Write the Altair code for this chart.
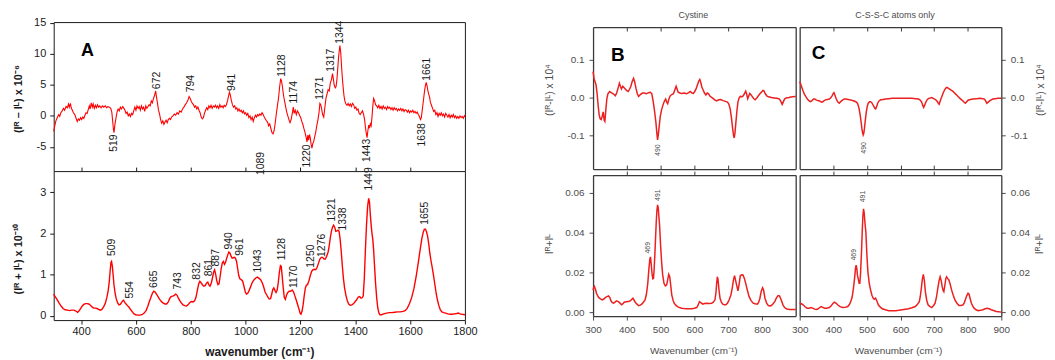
import altair as alt
import pandas as pd

# ---------------- data ----------------
A_TOP = [(300,-2.5),(304,-1.6),(308,-0.8),(313,-0.3),(318,0.2),(322,-0.1),(326,0.5),(331,0.8),(336,1.2),(340,0.9),(345,1.5),(350,1.3),(354,1.9),(357,1.4),(361,2.0),(364,1.3),(368,0.9),(372,0.5),(377,0.2),(381,-0.3),(386,-0.9),(390,-0.5),(394,-0.7),(398,-0.3),(402,-0.6),(406,-0.2),(410,-0.4),(414,0.1),(418,0.5),(422,0.4),(426,1.0),(430,1.6),(433,1.1),(437,2.1),(441,1.4),(444,1.9),(448,1.2),(452,1.7),(456,1.3),(460,1.8),(464,1.4),(468,1.6),(473,1.3),(478,1.6),(483,1.4),(488,1.6),(493,1.3),(498,1.5),(503,1.4),(508,1.2),(512,0.6),(515,-0.8),(518,-2.2),(520,-2.7),(523,-1.5),(527,-0.4),(531,0.6),(535,1.1),(539,0.8),(543,1.4),(547,1.1),(552,1.5),(556,1.2),(560,0.9),(564,0.4),(568,0.6),(572,0.0),(576,0.3),(580,-0.1),(584,0.4),(588,0.2),(592,0.8),(596,1.4),(600,0.9),(604,1.6),(608,1.2),(612,1.5),(616,0.9),(620,1.6),(624,1.1),(628,1.4),(632,0.7),(636,1.6),(640,1.2),(644,1.5),(648,1.8),(652,1.6),(656,2.4),(660,2.1),(664,2.8),(668,3.3),(672,4.0),(675,3.0),(678,2.2),(682,1.0),(686,0.3),(690,-0.6),(694,-1.2),(698,-0.8),(702,-1.4),(706,-1.0),(710,-0.7),(714,-1.1),(718,-0.6),(722,-0.4),(726,-0.6),(730,-0.2),(735,0.0),(740,0.3),(745,0.1),(750,0.5),(755,0.3),(760,0.8),(765,0.6),(770,1.1),(775,1.4),(780,1.8),(785,2.1),(790,2.6),(794,3.1),(798,2.8),(802,2.3),(806,2.0),(810,1.8),(814,1.4),(818,1.6),(822,1.1),(826,1.4),(830,0.9),(834,0.5),(838,-0.2),(842,-0.5),(846,-0.3),(850,0.4),(854,0.9),(858,1.3),(862,1.0),(866,1.6),(870,1.3),(874,1.7),(878,1.2),(882,1.6),(886,1.4),(890,1.7),(894,1.3),(898,1.6),(902,1.2),(906,1.8),(910,1.4),(914,1.6),(918,1.3),(922,1.7),(926,1.5),(930,1.8),(934,2.4),(938,3.2),(941,3.8),(944,3.4),(948,2.5),(952,1.8),(956,1.4),(960,1.6),(964,1.1),(968,1.3),(972,0.8),(976,1.1),(980,0.7),(984,0.9),(988,0.5),(992,0.8),(996,0.3),(1000,0.5),(1004,0.1),(1008,0.4),(1012,-0.3),(1016,0.0),(1020,-0.6),(1024,-0.2),(1028,-0.9),(1032,-0.3),(1036,0.1),(1040,-0.2),(1044,0.2),(1048,0.0),(1052,0.3),(1056,0.1),(1060,0.5),(1064,0.2),(1068,-0.2),(1072,-0.5),(1076,-0.8),(1080,-1.0),(1084,-1.6),(1088,-1.3),(1092,-2.0),(1096,-2.7),(1100,-2.9),(1104,-2.4),(1108,-1.2),(1112,0.3),(1116,1.6),(1120,2.8),(1124,4.6),(1128,6.0),(1131,5.6),(1134,4.8),(1138,3.4),(1142,2.4),(1146,1.5),(1150,0.6),(1154,0.0),(1158,-0.6),(1162,-1.1),(1166,-0.6),(1170,0.3),(1174,1.4),(1177,0.4),(1181,0.9),(1185,0.2),(1189,0.8),(1193,0.5),(1197,0.1),(1201,-0.3),(1205,-0.9),(1209,-1.4),(1213,-2.1),(1217,-2.7),(1221,-3.5),(1224,-4.2),(1227,-3.1),(1230,-3.9),(1233,-3.0),(1236,-3.6),(1239,-4.6),(1242,-5.2),(1245,-4.5),(1248,-4.2),(1252,-3.4),(1256,-2.6),(1260,-1.5),(1264,-0.6),(1268,0.6),(1271,2.0),(1274,1.8),(1277,1.2),(1281,0.2),(1285,-0.2),(1289,1.3),(1293,2.8),(1297,3.5),(1301,4.2),(1305,4.0),(1309,5.3),(1313,5.8),(1317,6.8),(1320,6.0),(1323,5.0),(1327,4.5),(1330,4.7),(1333,5.8),(1336,7.5),(1339,9.4),(1342,10.6),(1344,11.3),(1347,10.2),(1350,8.0),(1353,6.0),(1356,4.5),(1359,3.2),(1362,2.4),(1366,1.9),(1370,1.7),(1374,2.0),(1378,1.6),(1382,1.9),(1386,1.5),(1390,2.0),(1394,1.8),(1398,1.2),(1402,1.4),(1406,0.9),(1410,1.1),(1414,0.4),(1418,0.2),(1422,0.5),(1426,0.8),(1430,0.3),(1434,-0.6),(1437,-1.8),(1440,-2.8),(1443,-3.5),(1446,-2.4),(1449,-1.5),(1452,-2.0),(1455,-1.3),(1458,-1.6),(1461,-0.2),(1464,1.6),(1467,2.8),(1470,2.5),(1474,1.8),(1478,1.6),(1482,1.3),(1486,1.7),(1490,1.2),(1494,1.5),(1498,1.1),(1502,1.6),(1506,1.2),(1510,1.4),(1514,1.0),(1518,1.5),(1522,1.2),(1526,1.4),(1530,1.0),(1534,1.3),(1538,0.9),(1542,1.3),(1546,1.0),(1550,1.2),(1554,0.8),(1558,1.1),(1562,0.9),(1566,1.2),(1570,0.8),(1574,1.1),(1578,0.7),(1582,1.0),(1586,0.9),(1590,0.6),(1594,0.9),(1598,0.5),(1602,0.8),(1606,0.6),(1610,0.9),(1614,0.5),(1618,0.7),(1622,0.4),(1626,0.6),(1630,0.2),(1634,-0.1),(1638,-0.6),(1641,-0.3),(1644,0.8),(1647,1.9),(1650,3.0),(1653,4.1),(1656,4.9),(1659,5.4),(1662,4.8),(1665,4.0),(1668,3.5),(1671,3.0),(1674,2.2),(1678,1.7),(1682,1.2),(1686,0.7),(1690,0.9),(1694,0.2),(1698,0.5),(1702,-0.1),(1706,0.4),(1710,0.1),(1714,0.5),(1718,0.0),(1722,0.3),(1726,-0.2),(1730,0.4),(1734,0.1),(1738,-0.2),(1742,0.2),(1746,-0.3),(1750,0.1),(1754,-0.2),(1758,0.2),(1762,-0.3),(1766,0.0),(1770,-0.4),(1774,-0.1),(1778,-0.4),(1782,0.0),(1786,-0.3),(1790,-0.1),(1794,-0.4),(1798,0.0),(1800,-0.2)]

A_BOT = [(300,0.53),(306,0.46),(313,0.39),(320,0.31),(327,0.24),(334,0.18),(342,0.15),(350,0.14),(358,0.13),(366,0.14),(374,0.14),(381,0.12),(387,0.09),(392,0.12),(398,0.18),(404,0.24),(410,0.28),(416,0.3),(422,0.3),(428,0.29),(434,0.26),(440,0.22),(446,0.19),(452,0.19),(458,0.18),(464,0.16),(470,0.14),(476,0.16),(482,0.22),(488,0.3),(494,0.45),(499,0.62),(503,0.85),(506,1.1),(509,1.3),(511,1.32),(514,1.2),(517,0.98),(520,0.75),(524,0.55),(528,0.42),(533,0.32),(538,0.27),(543,0.28),(548,0.33),(552,0.37),(555,0.38),(559,0.33),(564,0.29),(569,0.25),(575,0.21),(581,0.15),(587,0.1),(593,0.05),(599,0.03),(606,0.02),(614,0.02),(622,0.03),(630,0.07),(637,0.13),(643,0.23),(649,0.35),(655,0.46),(660,0.55),(665,0.6),(670,0.58),(676,0.52),(682,0.45),(688,0.39),(694,0.34),(700,0.31),(706,0.29),(712,0.29),(718,0.34),(723,0.42),(728,0.47),(734,0.48),(740,0.5),(745,0.53),(750,0.5),(755,0.43),(760,0.37),(766,0.31),(772,0.27),(778,0.25),(784,0.24),(790,0.27),(796,0.32),(802,0.35),(808,0.34),(814,0.37),(819,0.45),(824,0.62),(829,0.78),(833,0.84),(838,0.8),(843,0.75),(848,0.72),(853,0.74),(858,0.8),(862,0.82),(866,0.75),(870,0.72),(875,0.8),(880,0.95),(884,1.08),(887,1.12),(891,1.0),(895,0.85),(899,0.76),(903,0.78),(907,0.95),(911,1.15),(915,1.28),(919,1.32),(923,1.25),(927,1.3),(931,1.4),(935,1.48),(939,1.55),(943,1.52),(947,1.45),(951,1.4),(955,1.41),(959,1.42),(963,1.4),(967,1.32),(971,1.15),(975,0.98),(979,0.9),(984,0.88),(989,0.85),(994,0.72),(999,0.58),(1003,0.53),(1008,0.55),(1013,0.62),(1019,0.72),(1025,0.82),(1031,0.88),(1037,0.92),(1043,0.94),(1049,0.91),(1055,0.88),(1061,0.8),(1066,0.7),(1071,0.58),(1076,0.52),(1081,0.46),(1086,0.41),(1091,0.42),(1095,0.52),(1099,0.64),(1103,0.68),(1107,0.62),(1111,0.57),(1115,0.62),(1119,0.8),(1123,1.05),(1127,1.22),(1130,1.2),(1133,1.0),(1137,0.7),(1141,0.45),(1145,0.4),(1149,0.5),(1154,0.57),(1159,0.6),(1164,0.6),(1170,0.63),(1175,0.58),(1180,0.48),(1185,0.38),(1190,0.27),(1195,0.16),(1199,0.06),(1202,0.04),(1206,0.12),(1210,0.28),(1214,0.5),(1218,0.68),(1222,0.75),(1226,0.76),(1231,0.85),(1236,0.98),(1241,1.08),(1246,1.12),(1251,1.13),(1256,1.12),(1261,1.18),(1266,1.28),(1271,1.38),(1276,1.42),(1281,1.42),(1286,1.38),(1291,1.38),(1296,1.45),(1301,1.55),(1305,1.7),(1309,1.9),(1313,2.05),(1317,2.15),(1321,2.2),(1325,2.15),(1329,2.05),(1333,2.06),(1337,2.08),(1341,2.05),(1345,1.85),(1349,1.55),(1353,1.2),(1357,0.9),(1361,0.68),(1366,0.5),(1371,0.37),(1376,0.29),(1382,0.26),(1388,0.27),(1394,0.3),(1400,0.35),(1406,0.4),(1411,0.46),(1416,0.47),(1421,0.43),(1425,0.44),(1429,0.48),(1433,0.9),(1437,1.6),(1441,2.2),(1445,2.65),(1449,2.85),(1452,2.75),(1455,2.45),(1458,2.2),(1461,2.0),(1464,1.85),(1467,1.6),(1470,1.25),(1474,0.8),(1478,0.45),(1482,0.2),(1486,0.08),(1490,0.03),(1496,0.03),(1504,0.05),(1514,0.07),(1524,0.08),(1534,0.08),(1544,0.09),(1554,0.1),(1564,0.1),(1574,0.11),(1582,0.13),(1590,0.19),(1598,0.3),(1606,0.45),(1614,0.66),(1622,0.95),(1630,1.3),(1637,1.62),(1643,1.88),(1648,2.03),(1652,2.1),(1656,2.1),(1660,2.04),(1664,1.93),(1668,1.75),(1672,1.52),(1676,1.35),(1680,1.2),(1685,1.0),(1690,0.78),(1695,0.55),(1700,0.38),(1705,0.25),(1710,0.15),(1716,0.1),(1722,0.08),(1730,0.07),(1738,0.05),(1746,0.04),(1754,0.04),(1762,0.05),(1770,0.06),(1776,0.07),(1782,0.05),(1790,0.04),(1800,0.03)]

B_TOP = [(300,0.069),(303,0.05),(306,0.042),(309,0.033),(312,0.01),(315,-0.02),(318,-0.045),(321,-0.056),(324,-0.058),(327,-0.05),(330,-0.038),(333,-0.06),(335,-0.063),(338,-0.03),(341,-0.002),(344,0.01),(349,0.016),(354,0.013),(360,0.01),(366,0.005),(370,0.012),(374,0.025),(378,0.038),(381,0.03),(384,0.023),(388,0.03),(392,0.026),(396,0.022),(400,0.018),(404,0.016),(408,0.022),(412,0.03),(416,0.043),(420,0.051),(423,0.042),(427,0.025),(431,0.01),(435,0.003),(440,0.008),(446,0.012),(452,0.012),(458,0.01),(464,0.013),(470,0.014),(474,0.01),(478,-0.01),(482,-0.035),(486,-0.065),(489,-0.095),(491,-0.112),(493,-0.1),(496,-0.075),(499,-0.05),(503,-0.032),(507,-0.02),(511,-0.01),(515,-0.004),(518,-0.012),(521,-0.016),(524,-0.006),(528,0.004),(533,0.008),(538,0.01),(542,0.02),(546,0.03),(549,0.022),(552,0.014),(557,0.012),(562,0.011),(570,0.012),(577,0.01),(583,0.013),(588,0.016),(593,0.012),(597,0.011),(601,0.016),(605,0.023),(609,0.033),(613,0.044),(616,0.048),(619,0.04),(622,0.028),(626,0.02),(630,0.012),(634,0.007),(638,0.012),(642,0.01),(646,0.004),(650,0.001),(655,-0.002),(660,-0.006),(666,-0.009),(672,-0.006),(678,-0.005),(685,-0.008),(692,-0.01),(698,-0.012),(702,-0.017),(706,-0.03),(710,-0.055),(713,-0.08),(716,-0.1),(718,-0.107),(720,-0.095),(723,-0.065),(726,-0.035),(729,-0.012),(732,-0.002),(736,0.003),(741,0.002),(745,0.005),(749,0.012),(752,0.017),(755,0.008),(758,-0.003),(761,0.004),(764,0.011),(768,0.007),(772,0.002),(776,-0.003),(780,-0.006),(784,-0.002),(789,0.004),(794,0.01),(799,0.015),(803,0.019),(806,0.018),(810,0.01),(815,0.004),(820,0.002),(828,0.0),(836,-0.001),(845,-0.002),(852,-0.004),(856,-0.01),(860,-0.018),(863,-0.012),(867,-0.004),(872,-0.001),(880,0.0),(890,0.002),(900,0.003)]

C_TOP = [(300,0.042),(303,0.036),(306,0.028),(310,0.018),(314,0.009),(318,0.003),(323,-0.004),(328,-0.009),(332,-0.011),(336,-0.009),(341,-0.004),(345,-0.004),(349,-0.006),(354,-0.008),(359,-0.009),(363,-0.011),(367,-0.012),(372,-0.009),(377,-0.006),(382,-0.005),(388,-0.004),(392,-0.001),(396,0.004),(400,0.011),(402,0.013),(405,0.006),(409,-0.004),(413,-0.011),(418,-0.015),(423,-0.01),(428,-0.006),(433,-0.004),(438,-0.004),(444,-0.005),(449,-0.006),(455,-0.007),(462,-0.009),(467,-0.011),(472,-0.015),(476,-0.026),(480,-0.046),(483,-0.066),(485,-0.081),(487,-0.092),(489,-0.099),(491,-0.094),(493,-0.08),(495,-0.063),(498,-0.04),(501,-0.024),(504,-0.015),(508,-0.011),(511,-0.011),(514,-0.013),(518,-0.019),(521,-0.024),(524,-0.029),(526,-0.03),(529,-0.024),(532,-0.015),(536,-0.009),(541,-0.006),(548,-0.005),(556,-0.004),(565,-0.003),(575,-0.002),(590,-0.002),(605,-0.002),(620,-0.002),(634,-0.002),(645,-0.003),(654,-0.004),(659,-0.007),(663,-0.012),(666,-0.02),(669,-0.026),(672,-0.02),(676,-0.011),(680,-0.005),(684,-0.002),(689,-0.001),(693,0.0),(699,-0.003),(705,-0.006),(710,-0.011),(713,-0.016),(715,-0.018),(718,-0.01),(721,-0.002),(724,0.005),(727,0.012),(731,0.02),(735,0.025),(738,0.027),(742,0.025),(747,0.022),(752,0.019),(757,0.016),(762,0.011),(767,0.007),(772,0.002),(777,-0.002),(782,-0.006),(786,-0.009),(790,-0.013),(793,-0.015),(797,-0.011),(801,-0.007),(808,-0.005),(816,-0.004),(826,-0.003),(836,-0.002),(845,-0.003),(850,-0.004),(854,-0.01),(857,-0.015),(861,-0.012),(865,-0.009),(870,-0.006),(875,-0.004),(882,-0.003),(890,-0.002),(900,-0.002)]

B_BOT = [(300,0.011),(302,0.0125),(304,0.013),(307,0.0115),(310,0.0095),(314,0.0082),(317,0.0073),(322,0.0067),(327,0.0062),(332,0.0066),(336,0.0073),(341,0.0078),(346,0.0082),(350,0.0072),(353,0.0057),(357,0.0048),(361,0.0045),(365,0.005),(369,0.0057),(373,0.0054),(377,0.005),(381,0.0043),(385,0.0037),(389,0.0043),(392,0.005),(398,0.0052),(405,0.0053),(411,0.0058),(415,0.0065),(418,0.007),(421,0.0062),(425,0.005),(430,0.004),(435,0.0033),(440,0.0035),(444,0.004),(449,0.005),(454,0.0062),(458,0.009),(462,0.0145),(465,0.021),(468,0.0265),(470,0.0278),(472,0.0245),(475,0.0187),(477,0.0168),(479,0.017),(481,0.022),(483,0.029),(485,0.037),(487,0.045),(489,0.051),(491,0.054),(493,0.0525),(495,0.048),(497,0.0437),(500,0.0335),(503,0.0253),(506,0.019),(510,0.0145),(514,0.0132),(518,0.0137),(521,0.0162),(524,0.019),(527,0.0178),(530,0.0135),(533,0.0087),(537,0.006),(540,0.0045),(545,0.0035),(550,0.0028),(556,0.0023),(562,0.002),(570,0.0018),(577,0.0017),(585,0.0017),(592,0.0017),(600,0.002),(607,0.0023),(611,0.0035),(615,0.0053),(619,0.0048),(625,0.004),(630,0.0043),(636,0.0045),(644,0.0044),(651,0.0045),(656,0.005),(661,0.0062),(664,0.01),(666,0.0145),(668,0.0178),(670,0.0165),(673,0.011),(676,0.007),(680,0.005),(684,0.004),(689,0.0037),(693,0.0037),(698,0.0045),(703,0.0062),(708,0.0085),(712,0.012),(716,0.0165),(719,0.0183),(722,0.016),(725,0.0137),(729,0.0107),(732,0.0135),(736,0.0183),(740,0.0188),(744,0.0187),(748,0.017),(752,0.0145),(757,0.011),(762,0.0078),(768,0.0058),(774,0.0045),(780,0.0042),(786,0.004),(790,0.0048),(794,0.007),(798,0.0105),(802,0.0123),(805,0.011),(809,0.007),(814,0.0045),(819,0.0033),(824,0.0031),(828,0.0033),(833,0.0042),(838,0.0053),(843,0.0072),(848,0.0083),(852,0.0082),(857,0.0062),(862,0.0038),(867,0.0023),(874,0.0016),(882,0.0013),(890,0.0013),(900,0.0013)]

C_BOT = [(300,0.0045),(305,0.0042),(310,0.0037),(316,0.0027),(322,0.002),(328,0.002),(334,0.0023),(340,0.0019),(345,0.0015),(349,0.0013),(354,0.0016),(359,0.0022),(364,0.0028),(369,0.0024),(374,0.002),(380,0.002),(388,0.0023),(394,0.0032),(399,0.0044),(403,0.005),(408,0.0045),(413,0.0037),(420,0.0028),(428,0.0023),(435,0.0024),(443,0.0028),(448,0.0038),(452,0.0053),(456,0.0075),(460,0.012),(464,0.018),(466,0.022),(468,0.0237),(470,0.022),(472,0.0185),(474,0.017),(477,0.0145),(479,0.0145),(481,0.019),(484,0.0303),(486,0.04),(488,0.048),(490,0.052),(492,0.05),(494,0.0455),(497,0.0403),(500,0.029),(503,0.0203),(507,0.0145),(511,0.0112),(515,0.0085),(519,0.007),(522,0.0065),(526,0.007),(530,0.0055),(534,0.0037),(540,0.0025),(546,0.0017),(555,0.0012),(565,0.0007),(575,0.0007),(585,0.0007),(595,0.0009),(605,0.0012),(615,0.0015),(624,0.0017),(634,0.0022),(644,0.0028),(650,0.0038),(656,0.0053),(659,0.008),(662,0.012),(665,0.0165),(668,0.019),(671,0.016),(674,0.0103),(678,0.006),(682,0.0037),(688,0.0028),(693,0.0023),(698,0.0032),(703,0.0045),(707,0.0075),(711,0.012),(715,0.016),(718,0.0178),(721,0.016),(724,0.0128),(727,0.0108),(729,0.0103),(732,0.0135),(735,0.017),(737,0.0178),(740,0.017),(744,0.0162),(748,0.014),(752,0.0112),(757,0.0085),(762,0.0062),(768,0.0045),(774,0.0033),(780,0.0033),(786,0.0037),(790,0.0048),(793,0.0062),(797,0.0082),(801,0.0095),(804,0.009),(807,0.007),(811,0.0045),(815,0.003),(819,0.002),(825,0.0012),(831,0.0007),(838,0.0009),(845,0.0012),(852,0.0017),(858,0.002),(864,0.0017),(870,0.0012),(877,0.0008),(885,0.0003),(892,0.0002),(900,0.0)]

# peak labels: (wavenumber, value at label anchor, text)
A_TOP_UP = [(677,4.3,"672"),(800,3.8,"794"),(949,4.0,"941"),(1134,6.3,"1128"),(1177,2.0,"1174"),(1270,2.6,"1271"),(1310,7.1,"1317"),(1346,11.6,"1344"),(1660,5.65,"1661")]
A_TOP_DOWN = [(519,-3.0,"519"),(1058,-5.8,"1089"),(1224,-4.6,"1220"),(1442,-3.7,"1443"),(1642,-1.2,"1638")]
A_BOT_UP = [(513,1.45,"509"),(579,0.42,"554"),(667,0.68,"665"),(754,0.64,"743"),(821,0.88,"832"),(865,0.96,"861"),(893,1.2,"887"),(941,1.61,"940"),(980,1.46,"961"),(1044,1.05,"1043"),(1134,1.35,"1128"),(1177,0.68,"1170"),(1237,1.17,"1250"),(1277,1.43,"1276"),(1316,2.29,"1321"),(1354,2.07,"1338"),(1451,3.04,"1449"),(1654,2.21,"1655")]
B_TOP_DOWN = [(491,-0.124,"490")]
C_TOP_DOWN = [(492,-0.118,"490")]
B_BOT_UP = [(464,0.0295,"469"),(491,0.056,"491")]
C_BOT_UP = [(463,0.026,"469"),(488,0.0553,"491")]

A_X_TICKS = [400, 600, 800, 1000, 1200, 1400, 1600, 1800]
A_TOP_Y_TICKS = [-5, 0, 5, 10, 15]
A_BOT_Y_TICKS = [0, 1, 2, 3]
BC_INNER_TICKS = [400, 500, 600, 700, 800]
B_X_LABELS = [300, 400, 500, 600, 700, 800]
C_X_LABELS = [300, 400, 500, 600, 700, 800, 900]
BC_TOP_Y_TICKS = [-0.1, 0.0, 0.1]
BC_BOT_Y_TICKS = [0.0, 0.02, 0.04, 0.06]

# ---------------- styles ----------------
FONT = "Liberation Sans"
RED_A = "#ff0000"
RED_B = "#ec2020"
INK = "#1a1a1a"
GRAY = "#4d4d4d"
FRAME_BC = "#3a3a3a"
MINUS = "replace(datum.label, '\u2212', '-')"

DUMMY = pd.DataFrame({"a": [0]})


def frame(pairs):
    return pd.DataFrame(pairs, columns=["wn", "v"])


def lab_frame(rows):
    return pd.DataFrame(rows, columns=["wn", "v", "t"])


def spacer(w, h):
    return alt.Chart(DUMMY).mark_rect(opacity=0).encode(
        x=alt.value(0), x2=alt.value(w), y=alt.value(0), y2=alt.value(h)
    ).properties(width=w, height=h, view=alt.ViewBackground(stroke="transparent"))


def caption(text, cx, cy):
    return alt.Chart(DUMMY).mark_text(
        text=text, font=FONT, fontSize=9, color=GRAY, align="center", baseline="middle"
    ).encode(x=alt.value(cx), y=alt.value(cy))


def letter(ch, px, py, size):
    return alt.Chart(DUMMY).mark_text(
        text=ch, font=FONT, fontSize=size, fontWeight="bold", color="#000",
        align="center", baseline="middle"
    ).encode(x=alt.value(px), y=alt.value(py))


def edge(orient, offset, color, width, tick_values=None, tick_size=4):
    """An axis used only as a frame line (optionally with unlabeled ticks)."""
    kw = dict(orient=orient, offset=offset, domain=True, domainColor=color,
              domainWidth=width, labels=False, title=None, grid=False)
    if tick_values:
        kw.update(ticks=True, values=tick_values, tickSize=tick_size,
                  tickColor=color, tickWidth=1)
    else:
        kw.update(ticks=False)
    return alt.Axis(**kw)


def peaks(rows, xs, ys, up, size, color, xaxis=None, yaxis=None):
    return alt.Chart(lab_frame(rows)).mark_text(
        angle=270, align="left" if up else "right", baseline="middle",
        font=FONT, fontSize=size, color=color
    ).encode(x=alt.X("wn:Q", scale=xs, axis=xaxis),
             y=alt.Y("v:Q", scale=ys, axis=yaxis),
             text="t:N")


def column(layers, w, h):
    return alt.layer(*layers).resolve_scale(y="independent").resolve_axis(
        x="independent", y="independent"
    ).properties(width=w, height=h, view=alt.ViewBackground(stroke="transparent"))


# ---------------- panel A (one column, two stacked plots) ----------------
A_W, A_H = 414, 312
xA = alt.Scale(domain=[300, 1800], nice=False, zero=False)
yAt = alt.Scale(domain=[-8.9, 15.1], range=[162, 12], nice=False, zero=False)
yAb = alt.Scale(domain=[-0.1, 3.51], range=[312, 162], nice=False, zero=False)

a_top_line = alt.Chart(frame(A_TOP)).mark_line(color=RED_A, strokeWidth=1.1).encode(
    x=alt.X("wn:Q", scale=xA, axis=edge("top", -12, INK, 1)),
    y=alt.Y("v:Q", scale=yAt, axis=alt.Axis(
        orient="left", values=A_TOP_Y_TICKS, format="d", tickSize=4, tickColor=INK, grid=False,
        domain=True, domainColor=INK, domainWidth=1,
        labelFont=FONT, labelFontSize=11, labelColor=INK, labelPadding=4, labelExpr=MINUS,
        title="(Iᴿ – Iᴸ) x 10⁻⁶", titleFont=FONT, titleFontSize=11, titleFontWeight="bold",
        titleColor=INK, titleAngle=270, titleX=-35, titleY=89,
        titleAlign="center", titleBaseline="middle")))

a_bot_line = alt.Chart(frame(A_BOT)).mark_line(color=RED_A, strokeWidth=1.4).encode(
    x=alt.X("wn:Q", scale=xA, axis=alt.Axis(
        orient="bottom", values=A_X_TICKS, format="d", tickSize=4, tickColor=INK, grid=False,
        domain=True, domainColor=INK, domainWidth=1,
        labelFont=FONT, labelFontSize=11, labelColor=INK, labelPadding=2,
        labelFlush=False, labelOverlap=False,
        title="wavenumber (cm⁻¹)", titleFont=FONT, titleFontSize=12, titleFontWeight="bold",
        titleColor=INK, titleX=207, titleY=32, titleAlign="center", titleBaseline="middle")),
    y=alt.Y("v:Q", scale=yAb, axis=alt.Axis(
        orient="left", values=A_BOT_Y_TICKS, format="d", tickSize=4, tickColor=INK, grid=False,
        domain=True, domainColor=INK, domainWidth=1,
        labelFont=FONT, labelFontSize=11, labelColor=INK, labelPadding=4,
        title="(Iᴿ + Iᴸ) x 10⁻¹⁰", titleFont=FONT, titleFontSize=11, titleFontWeight="bold",
        titleColor=INK, titleAngle=270, titleX=-35, titleY=250,
        titleAlign="center", titleBaseline="middle")))

A_col = column([
    a_top_line,
    peaks(A_TOP_UP, xA, yAt, True, 10.5, INK,
          xaxis=edge("top", -162, INK, 1, A_X_TICKS[:-1], 4),
          yaxis=edge("right", 0, INK, 1)),
    peaks(A_TOP_DOWN, xA, yAt, False, 10.5, INK),
    a_bot_line,
    peaks(A_BOT_UP, xA, yAb, True, 10.5, INK, yaxis=edge("right", 0, INK, 1)),
    letter("A", 34, 41, 18),
], A_W, A_H)

# ---------------- panels B and C ----------------
BC_H = 308
xB = alt.Scale(domain=[300, 900], nice=False, zero=False)
yBt = alt.Scale(domain=[-0.1895, 0.1868], range=[160, 17], nice=False, zero=False)
yBb = alt.Scale(domain=[-0.002, 0.069], range=[308, 166], nice=False, zero=False)


def label_axis_y(orient, values, fmt, title, title_y, title_x=None, title_pad=None, expr=None):
    kw = dict(orient=orient, values=values, format=fmt, tickSize=4, tickColor=GRAY, grid=False,
              domain=True, domainColor=FRAME_BC, domainWidth=1.3,
              labelFont=FONT, labelFontSize=10, labelColor=GRAY, labelPadding=5,
              title=title, titleFont=FONT, titleFontSize=10.5, titleFontWeight="normal",
              titleColor=GRAY, titleAngle=270, titleY=title_y,
              titleAlign="center", titleBaseline="middle")
    if title_x is not None:
        kw["titleX"] = title_x
    if title_pad is not None:
        kw["titlePadding"] = title_pad
    if expr:
        kw["labelExpr"] = expr
    return alt.Axis(**kw)


def bc_column(top, bot, top_down, bot_up, side, other, title_x, pads, x_labels, xtitle_x,
              cap_text, cap_x, ch, lx, ly, width):
    top_line = alt.Chart(frame(top)).mark_line(color=RED_B, strokeWidth=1.5).encode(
        x=alt.X("wn:Q", scale=xB,
                axis=edge("bottom", -(BC_H - 17), FRAME_BC, 1.3, BC_INNER_TICKS, 4)),
        y=alt.Y("v:Q", scale=yBt, axis=label_axis_y(
            side, BC_TOP_Y_TICKS, ".1f", "(Iᴿ-Iᴸ) x 10⁴", 80,
            title_x=title_x, title_pad=pads[0], expr=MINUS)))
    bot_line = alt.Chart(frame(bot)).mark_line(color=RED_B, strokeWidth=1.5).encode(
        x=alt.X("wn:Q", scale=xB, axis=alt.Axis(
            orient="bottom", values=x_labels, format="d", tickSize=4, tickColor=GRAY, grid=False,
            domain=True, domainColor=FRAME_BC, domainWidth=1.3,
            labelFont=FONT, labelFontSize=10, labelColor=GRAY, labelPadding=5,
            labelFlush=False, labelOverlap=False,
            title="Wavenumber (cm⁻¹)", titleFont=FONT, titleFontSize=10,
            titleFontWeight="normal", titleColor=GRAY, titleX=xtitle_x, titleY=35,
            titleAlign="center", titleBaseline="middle")),
        y=alt.Y("v:Q", scale=yBb, axis=label_axis_y(
            side, BC_BOT_Y_TICKS, ".2f", "Iᴿ+Iᴸ", 235,
            title_x=title_x, title_pad=pads[1])))
    return column([
        top_line,
        peaks(top_down, xB, yBt, False, 7, GRAY,
              xaxis=edge("top", -160, FRAME_BC, 1.3, BC_INNER_TICKS, 4),
              yaxis=edge(other, 0, FRAME_BC, 1.3)),
        bot_line,
        peaks(bot_up, xB, yBb, True, 7, GRAY,
              xaxis=edge("top", -166, FRAME_BC, 1.3, BC_INNER_TICKS, 4),
              yaxis=edge(other, 0, FRAME_BC, 1.3)),
        caption(cap_text, cap_x, 4.5),
        letter(ch, lx, ly, 19),
    ], width, BC_H)


B_col = bc_column(B_TOP, B_BOT, B_TOP_DOWN, B_BOT_UP, "left", "right", -44, (None, None),
                  B_X_LABELS, 101, "Cystine", 101, "B", 25, 45, 204)
C_col = bc_column(C_TOP, C_BOT, C_TOP_DOWN, C_BOT_UP, "right", "left", None, (13, 10),
                  C_X_LABELS, 99, "C-S-S-C atoms only", 96, "C", 19, 43, 203)

# ---------------- layout: one row, plot areas placed flush ----------------
chart = alt.hconcat(
    spacer(45, 10), A_col, spacer(129, 10), B_col, spacer(4, 10), C_col,
    spacing=0, bounds="flush", padding=0
).configure(background="white")

chart.save("out.html", embed_options={"renderer": "svg", "actions": False})
